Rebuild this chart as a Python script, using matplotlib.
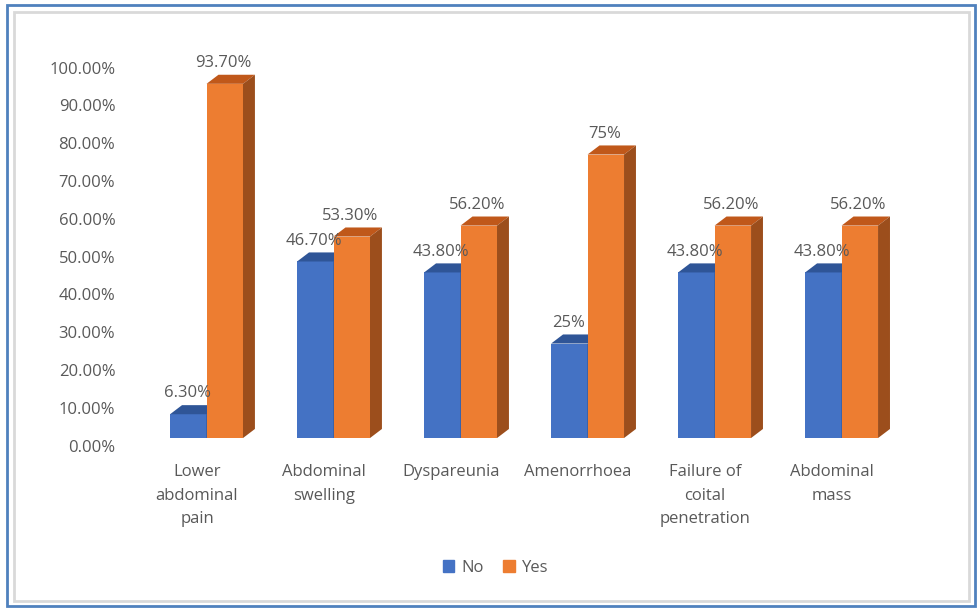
import numpy as np
import matplotlib
matplotlib.use("Agg")
import matplotlib.pyplot as plt
from matplotlib.patches import Patch, Rectangle

plt.rcParams['font.family'] = ['Open Sans', 'DejaVu Sans']
plt.rcParams['font.size'] = 12

symptoms = ['Lower\nabdominal\npain', 'Abdominal\nswelling', 'Dyspareunia',
            'Amenorrhoea', 'Failure of\ncoital\npenetration', 'Abdominal\nmass']
no_pct = [6.3, 46.7, 43.8, 25, 43.8, 43.8]
yes_pct = [93.7, 53.3, 56.2, 75, 56.2, 56.2]
no_text = ['6.30%', '46.70%', '43.80%', '25%', '43.80%', '43.80%']
yes_text = ['93.70%', '53.30%', '56.20%', '75%', '56.20%', '56.20%']
ticks = [0, 10, 20, 30, 40, 50, 60, 70, 80, 90, 100]

grey = '#595959'
face = {'No': '#4472C4', 'Yes': '#ED7D31'}
top_c = {'No': '#2F5597', 'Yes': '#C0581A'}
side_c = {'No': '#2E4F8A', 'Yes': '#9C4E1C'}

fig = plt.figure(figsize=(9.77, 6.08), dpi=100)
ax = fig.add_axes([0.1464, 0.264, 0.78, 0.6373])

x = np.arange(len(symptoms))
w = 0.287          # bar width
dx, dy = 0.094, 2.4  # fake 3d depth

def bar3d(xl, h, key):
    ax.bar(xl, h, width=w, align='edge', color=face[key], zorder=2)
    ax.fill([xl, xl + dx, xl + w + dx, xl + w], [h, h + dy, h + dy, h],
            color=top_c[key], zorder=2, lw=0)
    ax.fill([xl + w, xl + w + dx, xl + w + dx, xl + w], [0, dy, h + dy, h],
            color=side_c[key], zorder=2, lw=0)

for i in x:
    bar3d(i - w, no_pct[i], 'No')
    bar3d(i, yes_pct[i], 'Yes')
    ax.text(i - w / 2 - 0.01, no_pct[i] + dy + 1.0, no_text[i], ha='center',
            va='bottom', color=grey, zorder=5)
    ax.text(i + w / 2 - 0.01, yes_pct[i] + dy + 1.0, yes_text[i], ha='center',
            va='bottom', color=grey, zorder=5)

ax.set_xlim(-0.5, 5.5)
ax.set_ylim(-2.5, 100)
ax.set_yticks([t - 2.0 for t in ticks])
ax.set_yticklabels([f'{t:.2f}%' for t in ticks], color=grey)
ax.set_xticks(x - 0.075)
ax.set_xticklabels(symptoms, color=grey)
for lab in ax.get_xticklabels():
    lab.set_linespacing(1.62)
ax.tick_params(axis='y', length=0, pad=20)
ax.tick_params(axis='x', length=0, pad=12)
for s in ax.spines.values():
    s.set_visible(False)

fig.legend(handles=[Patch(color=face['No'], label='No'),
                    Patch(color=face['Yes'], label='Yes')],
           loc='center', bbox_to_anchor=(0.507, 0.066), ncol=2, frameon=False,
           handlelength=0.7, handleheight=0.7, handletextpad=0.4,
           columnspacing=1.2, labelcolor=grey)

# chart frame
fig.patches.append(Rectangle((14 / 977, 7 / 608), 955 / 977, 589 / 608,
                             transform=fig.transFigure, fill=False,
                             edgecolor='#D9D9D9', lw=2))
fig.patches.append(Rectangle((7 / 977, 2 / 608), 968 / 977, 601 / 608,
                             transform=fig.transFigure, fill=False,
                             edgecolor='#4F81BD', lw=2))

fig.savefig('out.png', dpi=100)
